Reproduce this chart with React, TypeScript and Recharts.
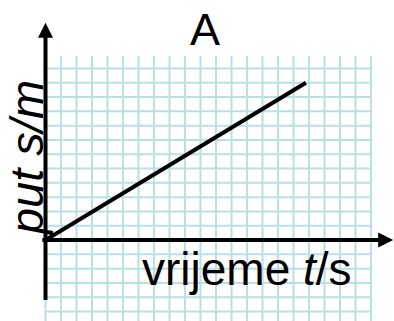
import { LineChart, Line, XAxis, YAxis, CartesianGrid, ReferenceLine } from 'recharts';

// time (grid squares) and distance (grid squares) of the plotted line
const timeValues = [0, 16.8];
const distanceValues = [0, 11];

const xGridTicks = [0, 1, 2, 3, 4, 5, 6, 7, 8, 9, 10, 11, 12, 13, 14, 15, 16, 17, 18, 19, 20, 21];
const yGridTicks = [-5, -4, -3, -2, -1, 0, 1, 2, 3, 4, 5, 6, 7, 8, 9, 10, 11, 12];

const title = 'A';
const xLabel = 'vrijeme ';
const xUnit = 't';
const xUnitRest = '/s';
const yLabel = 'put s/m';

const data = timeValues.map((t, i) => ({ t, s: distanceValues[i] }));

const FONT = '"Liberation Sans", Arial, sans-serif';

// axis line ending in a filled arrow head
const arrowShape = (extra?: (p: any) => any) => (props: any) => {
  const { x1, y1, x2, y2 } = props;
  const dx = x2 - x1;
  const dy = y2 - y1;
  const len = Math.sqrt(dx * dx + dy * dy) || 1;
  const ux = dx / len;
  const uy = dy / len;
  const head = 15;
  const half = 7.5;
  const bx = x2 - ux * head;
  const by = y2 - uy * head;
  const pts = `${x2},${y2} ${bx - uy * half},${by + ux * half} ${bx + uy * half},${by - ux * half}`;
  return (
    <g>
      <line x1={x1} y1={y1} x2={bx + ux} y2={by + uy} stroke="#000" strokeWidth={4} />
      <polygon points={pts} fill="#000" />
      {extra ? extra(props) : null}
    </g>
  );
};

const yAxisText = (p: any) => (
  <text
    x={p.x1 - 3}
    y={157}
    transform={`rotate(-90 ${p.x1 - 3} 157)`}
    textAnchor="middle"
    fontFamily={FONT}
    fontSize={47}
    fontStyle="italic"
    fill="#000"
  >
    {yLabel}
  </text>
);

const xAxisText = (p: any) => (
  <g>
    <text x={142} y={p.y1 + 45} fontFamily={FONT} fontSize={46} fill="#000">
      {xLabel}
      <tspan fontStyle="italic">{xUnit}</tspan>
      {xUnitRest}
    </text>
    <text x={205} y={45} textAnchor="middle" fontFamily={FONT} fontSize={45} fill="#000">
      {title}
    </text>
  </g>
);

export default function App() {
  return (
    <div style={{ position: 'absolute', left: 0, top: 0, width: 394, height: 321, background: '#fff' }}>
      <LineChart
        width={394}
        height={321}
        data={data}
        margin={{ top: 56, right: 23, bottom: 0, left: 45.5 }}
      >
        <CartesianGrid
          stroke="#b8e0e6"
          strokeWidth={2}
          horizontalValues={yGridTicks}
          verticalValues={xGridTicks}
          syncWithTicks
        />
        <XAxis type="number" dataKey="t" domain={[0, 21]} ticks={xGridTicks} interval={0} allowDataOverflow hide />
        <YAxis type="number" domain={[-5.66, 12.87]} ticks={yGridTicks} interval={0} allowDataOverflow hide />
        <ReferenceLine
          segment={[{ x: -0.2, y: 0 }, { x: 22.43, y: 0 }]}
          ifOverflow="visible"
          shape={arrowShape(xAxisText)}
        />
        <ReferenceLine
          segment={[{ x: 0, y: -4.2 }, { x: 0, y: 15.2 }]}
          ifOverflow="visible"
          shape={arrowShape(yAxisText)}
        />
        <Line
          type="linear"
          dataKey="s"
          stroke="#000"
          strokeWidth={4}
          dot={false}
          activeDot={false}
          isAnimationActive={false}
        />
      </LineChart>
    </div>
  );
}
